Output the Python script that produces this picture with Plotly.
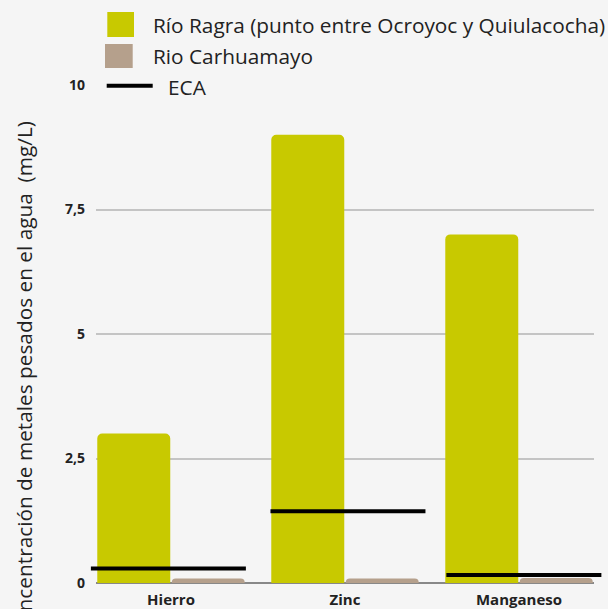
import plotly.graph_objects as go

# ---------------- data ----------------
categories = ["Hierro", "Zinc", "Manganeso"]
series_names = ["Río Ragra (punto entre Ocroyoc y Quiulacocha)", "Rio Carhuamayo", "ECA"]
ragra = [3, 9, 7]
carhuamayo = [0.09, 0.09, 0.1]
eca = [0.29, 1.44, 0.16]
y_tickvals = [0, 2.5, 5, 7.5, 10]
y_ticktext = ["0", "2,5", "5", "7,5", "10"]
y_title = "Concentración de metales pesados en el agua  (mg/L)"

# ---------------- styles / layout constants ----------------
W, H = 608, 609
ML, MR, MT, MB = 96, 14, 85, 26
BG = "#f5f5f5"
C_RAGRA = "#c8c900"
C_CARH = "#b5a08c"
FONT = "Open Sans"
TXT = 20.8
# ECA segments: centre offset from category centre (category units) and length (px)
eca_shift = [-0.015, 0.017, 0.028]
ECA_LEN = 155
ECA_MARKER_SIZE = ECA_LEN / 1.4  # plotly's line-ew symbol spans 1.4 x size

pw = W - ML - MR
ph = H - MT - MB


def px_x(x):
    return (x - ML) / pw


def px_y(y):
    return (H - MB - y) / ph


xs = list(range(len(categories)))

fig = go.Figure()
fig.add_trace(go.Bar(x=xs, y=ragra, name=series_names[0], marker_color=C_RAGRA,
                     marker_line_width=0, showlegend=False))
fig.add_trace(go.Bar(x=xs, y=carhuamayo, name=series_names[1], marker_color=C_CARH,
                     marker_line_width=0, showlegend=False))
fig.add_trace(go.Scatter(x=[i + s for i, s in zip(xs, eca_shift)], y=eca, mode="markers",
                         name=series_names[2],
                         marker=dict(symbol="line-ew", size=ECA_MARKER_SIZE,
                                     line=dict(color="black", width=4)),
                         cliponaxis=False, showlegend=False, hoverinfo="skip"))

# ---------------- manual legend ----------------
shapes = [
    dict(type="rect", xref="paper", yref="paper", layer="above",
         x0=px_x(107.3), x1=px_x(134), y0=px_y(37), y1=px_y(12),
         fillcolor=C_RAGRA, line_width=0),
    dict(type="rect", xref="paper", yref="paper", layer="above",
         x0=px_x(105), x1=px_x(132.7), y0=px_y(68), y1=px_y(44),
         fillcolor=C_CARH, line_width=0),
    dict(type="line", xref="paper", yref="paper", layer="above",
         x0=px_x(106.7), x1=px_x(152.7), y0=px_y(85.7), y1=px_y(85.7),
         line=dict(color="black", width=4)),
]
legend_text_pos = [(151, 25), (151, 56), (166, 86.5)]
annotations = []
for name, (tx, ty) in zip(series_names, legend_text_pos):
    annotations.append(dict(text=name, xref="paper", yref="paper", x=px_x(tx), y=px_y(ty),
                            xanchor="left", yanchor="middle", showarrow=False,
                            font=dict(family=FONT, size=TXT, color="#222")))
annotations.append(dict(text=y_title, xref="paper", yref="paper", x=px_x(24), y=px_y(119),
                        xanchor="center", yanchor="top", textangle=-90, showarrow=False,
                        font=dict(family=FONT, size=TXT, color="#222")))

fig.update_layout(
    width=W, height=H,
    margin=dict(l=ML, r=MR, t=MT, b=MB, pad=0, autoexpand=False),
    paper_bgcolor=BG, plot_bgcolor=BG,
    barmode="group", bargap=0.144, bargroupgap=0.02, barcornerradius=5,
    showlegend=False,
    shapes=shapes, annotations=annotations,
    font=dict(family=FONT, color="#222"),
    xaxis=dict(range=[-0.431, 2.431], tickvals=xs, ticktext=categories,
               showgrid=False, zeroline=False, showline=False, ticks="",
               automargin=False, ticklabelstandoff=6,
               tickfont=dict(family=FONT, size=15, color="#222", weight="bold"),
               fixedrange=True),
    yaxis=dict(range=[0, 10], tickvals=y_tickvals, ticktext=y_ticktext,
               showgrid=True, gridcolor="#c4c4c4", gridwidth=1.5,
               zeroline=True, zerolinecolor="#888888", zerolinewidth=2,
               showline=False, ticks="", ticklabelstandoff=10, automargin=False,
               tickfont=dict(family=FONT, size=14, color="#222", weight="bold"),
               fixedrange=True),
)

fig.write_html("out.html", config={"displayModeBar": False},
               post_script="document.body.style.margin='0';document.body.style.overflow='hidden';")
